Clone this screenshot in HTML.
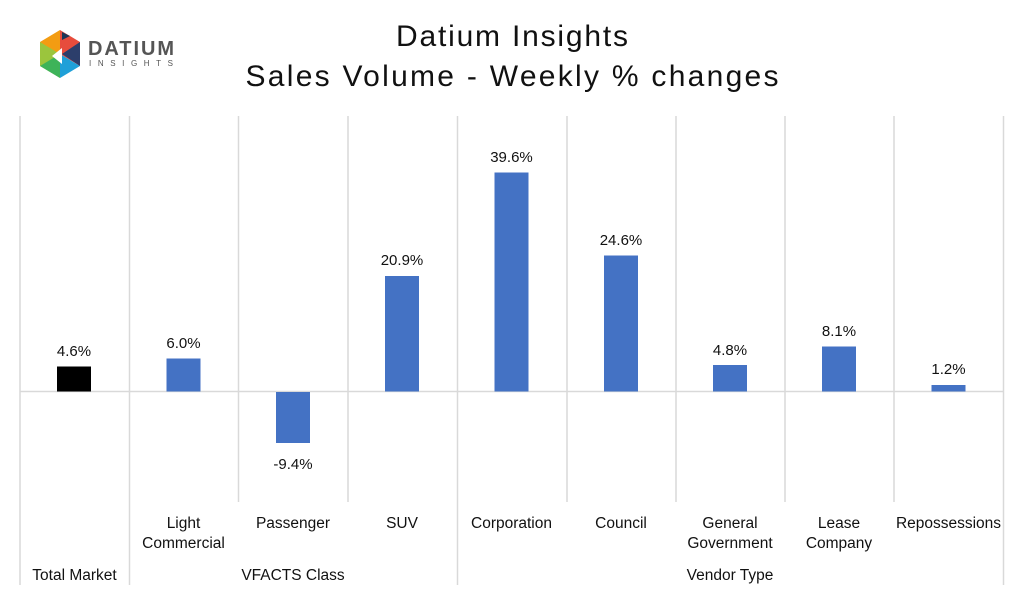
<!DOCTYPE html>
<html><head><meta charset="utf-8"><style>
html,body{margin:0;padding:0;background:#fff}
svg{display:block}
text{font-family:"Liberation Sans",sans-serif;fill:#111}
</style></head><body>
<svg width="1024" height="594" viewBox="0 0 1024 594" xmlns="http://www.w3.org/2000/svg">
<rect width="1024" height="594" fill="#fff"/>
<!-- logo -->
<g transform="translate(40,30)">
<polygon points="0,12 20,0 20,24 0,36" fill="#f39c12"/>
<polygon points="20,0 40,12 40,36 20,24" fill="#e74c3c"/>
<polygon points="0,12 0,36 20,48 20,24" fill="#9bc53d"/>
<polygon points="20,24 40,36 20,48" fill="#1fa0d8"/>
<polygon points="40,12 40,36 22,24" fill="#2c3e6b"/>
<polygon points="0,36 20,48 20,24" fill="#27ae60" opacity="0.8"/>
<polygon points="12,26 22,18 22,34" fill="#fff"/>
<polygon points="22,2 30,6 22,10" fill="#1d3557"/>
</g>
<text x="88" y="55" font-size="20" font-weight="bold" fill="#555" style="fill:#555" textLength="86">DATIUM</text>
<text x="89" y="66" font-size="8" style="fill:#555" textLength="84">INSIGHTS</text>
<!-- title -->
<text x="512" y="46" font-size="30" text-anchor="middle" textLength="232">Datium Insights</text>
<text x="512" y="86" font-size="30" text-anchor="middle" textLength="533">Sales Volume - Weekly % changes</text>
<!-- grid lines -->
<g stroke="#d9d9d9" stroke-width="1.5">
<line x1="20" y1="116" x2="20" y2="585"/>
<line x1="129.5" y1="116" x2="129.5" y2="585"/>
<line x1="457.5" y1="116" x2="457.5" y2="585"/>
<line x1="1003.5" y1="116" x2="1003.5" y2="585"/>
<line x1="238.5" y1="116" x2="238.5" y2="502"/>
<line x1="348" y1="116" x2="348" y2="502"/>
<line x1="567" y1="116" x2="567" y2="502"/>
<line x1="676" y1="116" x2="676" y2="502"/>
<line x1="785" y1="116" x2="785" y2="502"/>
<line x1="894" y1="116" x2="894" y2="502"/>
<line x1="20" y1="391.5" x2="1004" y2="391.5"/>
</g>
<!-- bars: scale 5.53px per % -->
<rect x="57" y="366.5" width="34" height="25" fill="#000"/>
<rect x="166.5" y="358.5" width="34" height="33" fill="#4472c4"/>
<rect x="276" y="392" width="34" height="51" fill="#4472c4"/>
<rect x="385" y="276" width="34" height="115.5" fill="#4472c4"/>
<rect x="494.5" y="172.5" width="34" height="219" fill="#4472c4"/>
<rect x="604" y="255.5" width="34" height="136" fill="#4472c4"/>
<rect x="713" y="365" width="34" height="26.5" fill="#4472c4"/>
<rect x="822" y="346.5" width="34" height="45" fill="#4472c4"/>
<rect x="931.5" y="385" width="34" height="6.5" fill="#4472c4"/>
<!-- value labels -->
<g font-size="15" text-anchor="middle">
<text x="74" y="356">4.6%</text>
<text x="183.5" y="348">6.0%</text>
<text x="293" y="469">-9.4%</text>
<text x="402" y="265">20.9%</text>
<text x="511.5" y="162">39.6%</text>
<text x="621" y="245">24.6%</text>
<text x="730" y="355">4.8%</text>
<text x="839" y="336">8.1%</text>
<text x="948.5" y="374">1.2%</text>
</g>
<!-- category labels -->
<g font-size="15.5" text-anchor="middle">
<text x="183.5" y="528">Light</text>
<text x="183.5" y="548">Commercial</text>
<text x="293" y="528">Passenger</text>
<text x="402" y="528">SUV</text>
<text x="511.5" y="528">Corporation</text>
<text x="621" y="528">Council</text>
<text x="730" y="528">General</text>
<text x="730" y="548">Government</text>
<text x="839" y="528">Lease</text>
<text x="839" y="548">Company</text>
<text x="948.5" y="528">Repossessions</text>
<text x="74.5" y="580">Total Market</text>
<text x="293" y="580">VFACTS Class</text>
<text x="730" y="580">Vendor Type</text>
</g>
</svg>
</body></html>
